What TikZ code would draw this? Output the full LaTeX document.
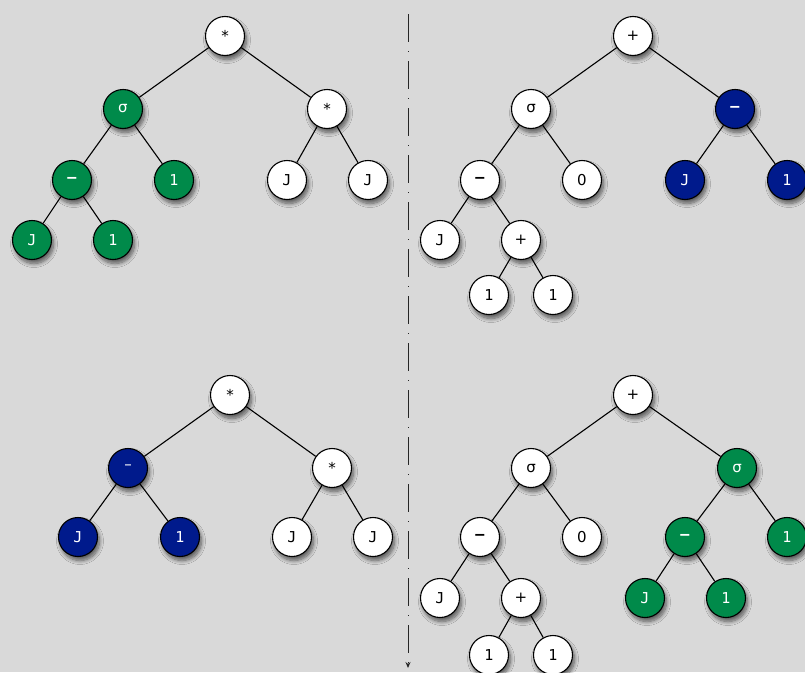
\documentclass[tikz,border=0pt]{standalone}
\usepackage{fontspec}
\setmainfont{DejaVu Sans}
\newfontfamily\monof{DejaVu Sans Mono}
\usetikzlibrary{shadows.blur,arrows.meta}
\definecolor{bgc}{RGB}{217,217,217}
\definecolor{gr}{RGB}{0,138,74}
\definecolor{bl}{RGB}{0,26,140}
\tikzset{
  tn/.style={circle, draw=black, line width=1.1pt, minimum size=39pt, inner sep=0pt,
    font=\fontsize{15pt}{15pt}\selectfont,
    blur shadow={shadow xshift=2pt, shadow yshift=-4pt, shadow blur steps=8, shadow blur radius=4pt, shadow opacity=60}},
  wn/.style={tn, fill=white, text=black},
  gn/.style={tn, fill=gr, text=white},
  bn/.style={tn, fill=bl, text=white},
  ed/.style={line width=1.1pt, black},
}
\newcommand{\mJ}{{\monof J}}
\newcommand{\mO}{{\monof 1}}
\newcommand{\mM}{{\bfseries\monof –}}
\begin{document}
\begin{tikzpicture}[x=1pt,y=-1pt]
\fill[bgc] (0,0) rectangle (805,672);
\useasboundingbox (0,0) rectangle (805,672);
% divider
\coordinate (dt) at (408,14);
\coordinate (db) at (408,668);
\draw[line width=0.9pt, black!85, dash pattern=on 28pt off 9pt on 1pt off 9pt, -{Stealth[length=6pt,width=5pt]}] (dt) -- (db);

% top-left tree
\node[wn] (a1) at (225,36) {*};
\node[gn] (a2) at (123,109) {σ};
\node[wn] (a3) at (327,109) {*};
\node[gn] (a4) at (72,180) {\mM};
\node[gn] (a5) at (174,180) {\mO};
\node[wn] (a6) at (287,180) {\mJ};
\node[wn] (a7) at (368,180) {\mJ};
\node[gn] (a8) at (32,240) {\mJ};
\node[gn] (a9) at (113,240) {\mO};
\draw[ed] (a1)--(a2) (a1)--(a3) (a2)--(a4) (a2)--(a5) (a3)--(a6) (a3)--(a7) (a4)--(a8) (a4)--(a9);

% top-right tree
\node[wn] (b1) at (633,36) {+};
\node[wn] (b2) at (531,109) {σ};
\node[bn] (b3) at (735,109) {\mM};
\node[wn] (b4) at (480,180) {\mM};
\node[wn] (b5) at (582,180) {0};
\node[bn] (b6) at (685,180) {\mJ};
\node[bn] (b7) at (787,180) {\mO};
\node[wn] (b8) at (440,240) {\mJ};
\node[wn] (b9) at (521,240) {+};
\node[wn] (b10) at (489,295) {\mO};
\node[wn] (b11) at (553,295) {\mO};
\draw[ed] (b1)--(b2) (b1)--(b3) (b2)--(b4) (b2)--(b5) (b3)--(b6) (b3)--(b7) (b4)--(b8) (b4)--(b9) (b9)--(b10) (b9)--(b11);

% bottom-left tree
\node[wn] (c1) at (230,395) {*};
\node[bn] (c2) at (128,468) {\raisebox{2pt}{–}};
\node[wn] (c3) at (332,468) {*};
\node[bn] (c4) at (78,537) {\mJ};
\node[bn] (c5) at (180,537) {\mO};
\node[wn] (c6) at (292,537) {\mJ};
\node[wn] (c7) at (373,537) {\mJ};
\draw[ed] (c1)--(c2) (c1)--(c3) (c2)--(c4) (c2)--(c5) (c3)--(c6) (c3)--(c7);

% bottom-right tree
\node[wn] (d1) at (633,395) {+};
\node[wn] (d2) at (531,468) {σ};
\node[gn] (d3) at (737,468) {σ};
\node[wn] (d4) at (480,537) {\mM};
\node[wn] (d5) at (582,537) {0};
\node[gn] (d6) at (685,537) {\mM};
\node[gn] (d7) at (787,537) {\mO};
\node[wn] (d8) at (440,598) {\mJ};
\node[wn] (d9) at (521,598) {+};
\node[wn] (d10) at (489,655) {\mO};
\node[wn] (d11) at (553,655) {\mO};
\node[gn] (d12) at (645,598) {\mJ};
\node[gn] (d13) at (726,598) {\mO};
\draw[ed] (d1)--(d2) (d1)--(d3) (d2)--(d4) (d2)--(d5) (d3)--(d6) (d3)--(d7) (d4)--(d8) (d4)--(d9) (d9)--(d10) (d9)--(d11) (d6)--(d12) (d6)--(d13);
\end{tikzpicture}
\end{document}
